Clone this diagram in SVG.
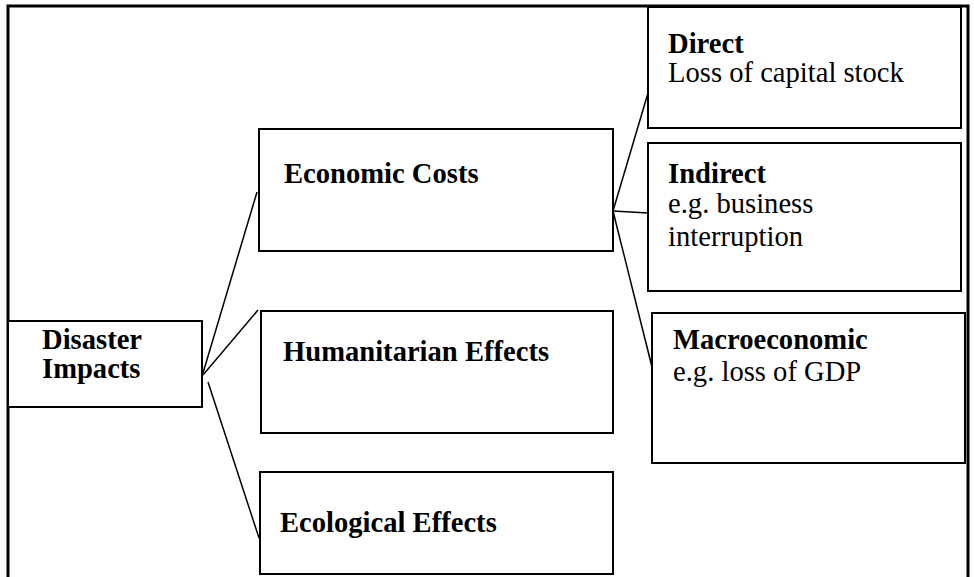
<svg xmlns="http://www.w3.org/2000/svg" width="974" height="577" viewBox="0 0 974 577">
  <style>
    .box { fill: #ffffff; stroke: #000000; stroke-width: 2; }
    .frame { fill: none; stroke: #000000; stroke-width: 3; }
    .link { fill: none; stroke: #000000; stroke-width: 1.5; }
    text { font-family: "Liberation Serif", "Times New Roman", serif; font-size: 28.6px; fill: #000000; }
    .b { font-weight: bold; }
  </style>
  <rect x="0" y="0" width="974" height="577" fill="#ffffff"/>

  <!-- outer frame, open at the bottom -->
  <path class="frame" d="M8,577 V6 H968 V577"/>

  <!-- connectors -->
  <g id="connectors">
    <line class="link" x1="203" y1="373" x2="257" y2="192"/>
    <line class="link" x1="203" y1="375" x2="258" y2="310"/>
    <line class="link" x1="208" y1="382" x2="259" y2="538"/>
    <line class="link" x1="613" y1="211" x2="648" y2="93"/>
    <line class="link" x1="613" y1="211" x2="648" y2="213"/>
    <line class="link" x1="613" y1="211" x2="652" y2="367"/>
  </g>

  <g id="disaster-impacts">
    <rect class="box" x="8" y="321" width="194" height="86"/>
    <text class="b" x="42" y="349">Disaster</text>
    <text class="b" x="42" y="378">Impacts</text>
  </g>

  <g id="economic-costs">
    <rect class="box" x="259" y="129" width="354" height="122"/>
    <text class="b" x="284" y="183">Economic Costs</text>
  </g>

  <g id="humanitarian-effects">
    <rect class="box" x="261" y="311" width="352" height="122"/>
    <text class="b" x="283" y="361">Humanitarian Effects</text>
  </g>

  <g id="ecological-effects">
    <rect class="box" x="260" y="472" width="353" height="102"/>
    <text class="b" x="280" y="532">Ecological Effects</text>
  </g>

  <g id="direct">
    <rect class="box" x="648" y="7" width="313" height="121"/>
    <text class="b" x="668" y="53">Direct</text>
    <text x="668" y="82">Loss of capital stock</text>
  </g>

  <g id="indirect">
    <rect class="box" x="648" y="143" width="313" height="148"/>
    <text class="b" x="668" y="183">Indirect</text>
    <text x="668" y="213">e.g. business</text>
    <text x="668" y="246">interruption</text>
  </g>

  <g id="macroeconomic">
    <rect class="box" x="652" y="313" width="313" height="150"/>
    <text class="b" x="673" y="349">Macroeconomic</text>
    <text x="673" y="381">e.g. loss of GDP</text>
  </g>
</svg>
